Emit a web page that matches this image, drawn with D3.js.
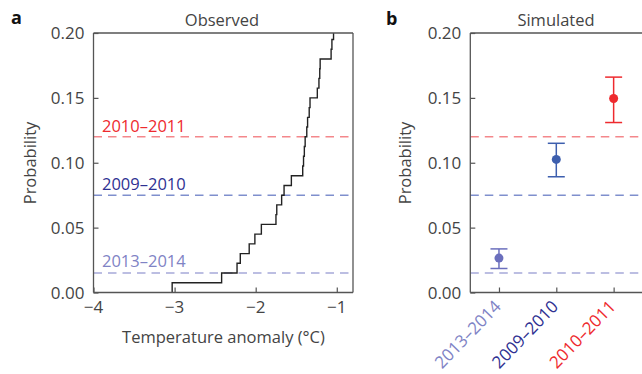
<!DOCTYPE html>
<html><head><meta charset="utf-8">
<script src="https://cdn.jsdelivr.net/npm/d3@7"></script>
<style>body{margin:0;background:#fff}svg{display:block}text{font-family:"Open Sans",sans-serif;fill:#444}</style>
</head><body><svg id="c" width="642" height="374"></svg>
<script>
// ---- data ----
const obsTemp = [-3.03,-2.42,-2.23,-2.19,-2.08,-2.01,-1.93,-1.75,-1.74,-1.68,-1.65,-1.56,-1.42,-1.41,-1.40,-1.39,-1.37,-1.36,-1.34,-1.33,-1.24,-1.22,-1.21,-1.205,-1.07,-1.06,-1.04];
const obsProb = [0.0075,0.015,0.0225,0.03,0.0375,0.045,0.0525,0.06,0.0675,0.075,0.0825,0.09,0.0975,0.105,0.1125,0.12,0.1275,0.135,0.1425,0.15,0.1575,0.165,0.1725,0.18,0.1875,0.195,0.2025];
const periods = ["2013–2014","2009–2010","2010–2011"];
const refProb = [0.015,0.075,0.12];
const simMean = [0.0265,0.1026,0.1495];
const simLow  = [0.0185,0.0892,0.131];
const simHigh = [0.0336,0.115,0.166];
const yTicks = [0,0.05,0.10,0.15,0.20];
const xTicks = [-4,-3,-2,-1];
const pointCol = ["#6b6fbd","#3d5fae","#ee2a2e"];
const textCol  = ["#8083c5","#2e3192","#ee2a2e"];
const dashCol  = ["#a7a9d9","#7f8fcd","#f4878b"];

const svg = d3.select("#c");
const fmtY = d => d.toFixed(2);
const axisCol = "#555";
const yTop = 33, yBot = 292.5;
const y = d3.scaleLinear().domain([0,0.2]).range([yBot, yTop]);

function frame(g, x0, x1, drawRight){
  g.append("line").attr("x1",x0).attr("x2",x1).attr("y1",yTop).attr("y2",yTop).attr("stroke",axisCol).attr("stroke-width",1.3);
  g.append("line").attr("x1",x0).attr("x2",x1).attr("y1",yBot).attr("y2",yBot).attr("stroke",axisCol).attr("stroke-width",1.3);
  g.append("line").attr("x1",x0).attr("x2",x0).attr("y1",yTop).attr("y2",yBot).attr("stroke",axisCol).attr("stroke-width",1.3);
  if(drawRight) g.append("line").attr("x1",x1).attr("x2",x1).attr("y1",yTop).attr("y2",yBot).attr("stroke",axisCol).attr("stroke-width",1.3);
}
function yAxis(g, x0){
  const ax = g.append("g").attr("transform",`translate(${x0},0)`)
    .call(d3.axisRight(y).tickValues(yTicks).tickSize(5).tickFormat(""));
  ax.select(".domain").remove();
  ax.selectAll("line").attr("stroke",axisCol).attr("stroke-width",1.2);
  yTicks.forEach(t=>{
    g.append("text").attr("x",x0-9).attr("y",y(t)+6).attr("text-anchor","end")
      .attr("font-size",17).text(fmtY(t));
  });
}
function refLines(g, x0, x1){
  refProb.forEach((p,i)=>{
    g.append("line").attr("x1",x0).attr("x2",x1).attr("y1",y(p)).attr("y2",y(p))
      .attr("stroke",dashCol[i]).attr("stroke-width",1.4).attr("stroke-dasharray","8.5,6");
  });
}

// ---- panel a ----
const xa = d3.scaleLinear().domain([-4,-0.8]).range([93.5,353]);
const ga = svg.append("g");
svg.append("defs").append("clipPath").attr("id","clipA").append("rect")
  .attr("x",xa.range()[0]).attr("y",yTop).attr("width",xa.range()[1]-xa.range()[0]).attr("height",yBot-yTop);
refLines(ga, xa.range()[0], xa.range()[1]);
const stepPts = [[obsTemp[0],0]].concat(obsTemp.map((t,i)=>[t,obsProb[i]]));
ga.append("path").attr("clip-path","url(#clipA)")
  .attr("d", d3.line().x(d=>xa(d[0])).y(d=>y(d[1])).curve(d3.curveStepAfter)(stepPts))
  .attr("fill","none").attr("stroke","#222").attr("stroke-width",1.4);
frame(ga, xa.range()[0], xa.range()[1], true);
yAxis(ga, xa.range()[0]);
const axa = ga.append("g").attr("transform",`translate(0,${yBot})`)
  .call(d3.axisTop(xa).tickValues(xTicks).tickSize(5).tickFormat(""));
axa.select(".domain").remove();
axa.selectAll("line").attr("stroke",axisCol).attr("stroke-width",1.2);
xTicks.forEach(t=>{
  ga.append("text").attr("x",xa(t)).attr("y",313).attr("text-anchor","middle").attr("font-size",17)
    .text(String(t).replace("-","−"));
});
ga.append("text").attr("x",223.5).attr("y",343).attr("text-anchor","middle").attr("font-size",16.5).text("Temperature anomaly (°C)");
ga.append("text").attr("x",222).attr("y",26).attr("text-anchor","middle").attr("font-size",16.5).text("Observed");
ga.append("text").attr("transform","translate(36,163) rotate(-90)").attr("text-anchor","middle").attr("font-size",16.5).text("Probability");
ga.append("text").attr("x",11).attr("y",24).attr("font-size",18).style("font-weight","bold").style("fill","#111").text("a");
const labY = [266.5,189.5,131.5];
periods.forEach((p,i)=>{
  ga.append("text").attr("x",102).attr("y",labY[i]).attr("font-size",16.5).style("fill",textCol[i]).text(p);
});

// ---- panel b ----
const xb = d3.scaleLinear().domain([0.5,3.5]).range([470.3,642.3]);
const gb = svg.append("g");
refLines(gb, xb.range()[0], 643);
frame(gb, xb.range()[0], 645, false);
yAxis(gb, xb.range()[0]);
const idx = [1,2,3];
const axb = gb.append("g").attr("transform",`translate(0,${yBot})`)
  .call(d3.axisTop(xb).tickValues(idx).tickSize(5).tickFormat(""));
axb.select(".domain").remove();
axb.selectAll("line").attr("stroke",axisCol).attr("stroke-width",1.2);
periods.forEach((p,i)=>{
  const cx = xb(idx[i]);
  gb.append("line").attr("x1",cx).attr("x2",cx).attr("y1",y(simLow[i])).attr("y2",y(simHigh[i])).attr("stroke",pointCol[i]).attr("stroke-width",1.5);
  [simLow[i],simHigh[i]].forEach(v=>{
    gb.append("line").attr("x1",cx-8.5).attr("x2",cx+8.5).attr("y1",y(v)).attr("y2",y(v)).attr("stroke",pointCol[i]).attr("stroke-width",1.5);
  });
  gb.append("circle").attr("cx",cx).attr("cy",y(simMean[i])).attr("r",4.5).attr("fill",pointCol[i]);
  gb.append("text").attr("transform",`translate(${cx+3},${yBot+15}) rotate(-46)`).attr("text-anchor","end")
    .attr("font-size",17).style("fill",textCol[i]).text(p);
});
gb.append("text").attr("x",556).attr("y",26).attr("text-anchor","middle").attr("font-size",16.5).text("Simulated");
gb.append("text").attr("transform","translate(411,163) rotate(-90)").attr("text-anchor","middle").attr("font-size",16.5).text("Probability");
gb.append("text").attr("x",386).attr("y",25).attr("font-size",18).style("font-weight","bold").style("fill","#111").text("b");
</script></body></html>
